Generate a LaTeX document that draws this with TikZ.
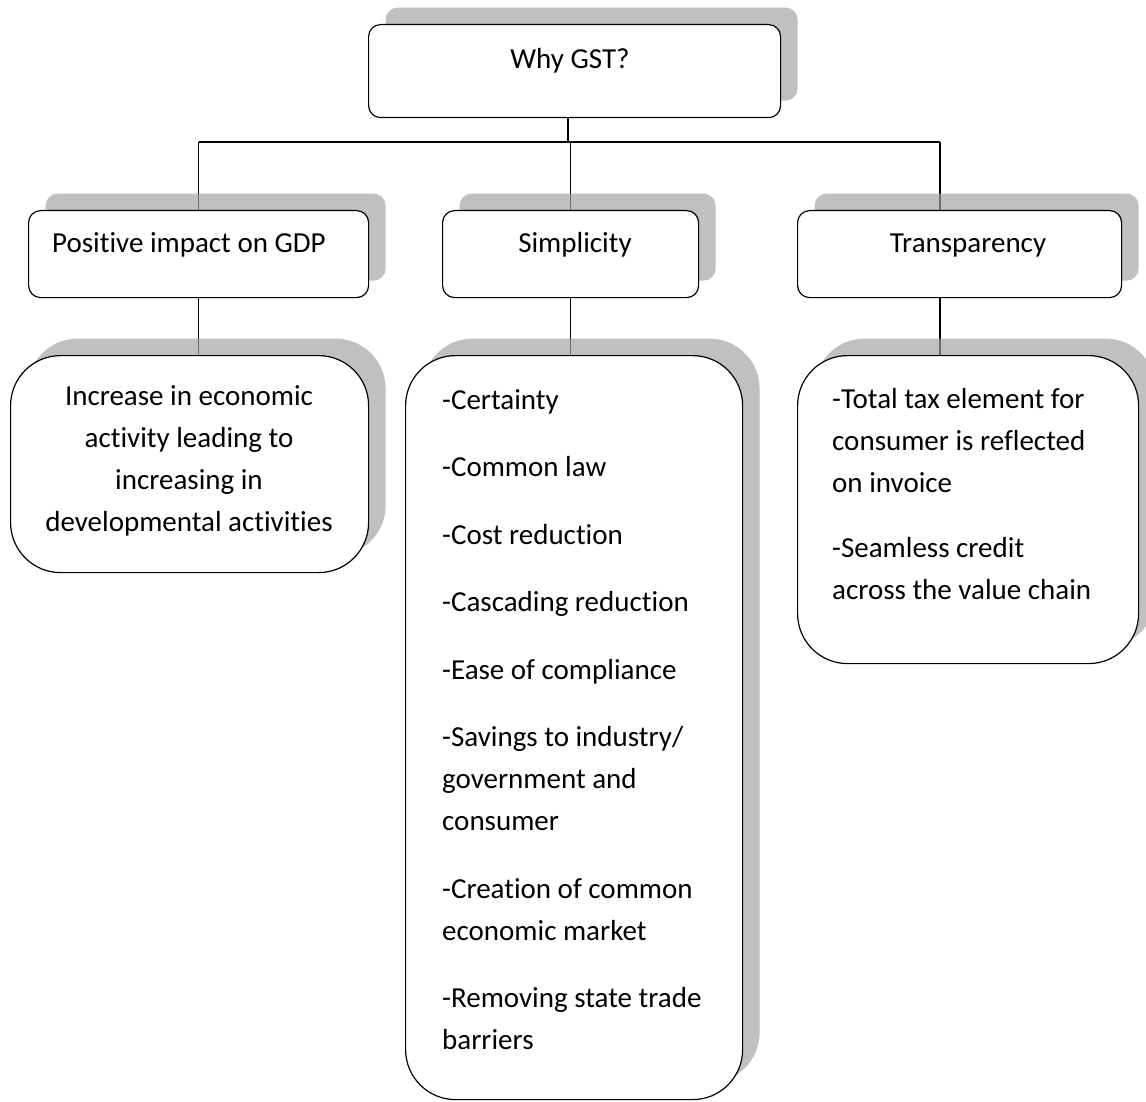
\documentclass[tikz,border=0pt]{standalone}
\usepackage{fontspec}
\setmainfont{Carlito}[Ligatures={NoCommon,NoRequired,NoContextual},RawFeature=-liga,RawFeature=-dlig,RawFeature=-calt]
\usetikzlibrary{shadows,backgrounds}
\begin{document}
\begin{tikzpicture}[x=1pt,y=-1pt,
  box/.style={draw=black, line width=1.2pt, fill=white, rounded corners=12pt, inner sep=0pt, anchor=north west,
    general shadow={fill=black!37, fill opacity=0.67, draw=none, shadow xshift=17pt, shadow yshift=17pt}},
  bigbox/.style={box, rounded corners=50pt},
  txt/.style={font=\fontsize{29}{42}\selectfont, inner sep=0pt},
  conn/.style={draw=black, line width=1.3pt}]
\useasboundingbox (0,0) rectangle (1146,1102);
% boxes
\node[box, minimum width=412pt, minimum height=93pt] (why) at (368,24) {};
\node[box, minimum width=340pt, minimum height=87pt] (pos) at (28,210) {};
\node[box, minimum width=256pt, minimum height=87pt] (simp) at (442,210) {};
\node[box, minimum width=324pt, minimum height=87pt] (trans) at (797,210) {};
\node[bigbox, minimum width=358pt, minimum height=217pt] (inc) at (10,355) {};
\node[bigbox, minimum width=337pt, minimum height=744pt] (simpl) at (405,355) {};
\node[bigbox, minimum width=341pt, minimum height=308pt] (transl) at (797,355) {};
% texts
\node[txt, anchor=base] (whyT) at (570,69) {Why GST?};
\node[txt, anchor=base west] (posT) at (52,252) {Positive impact on GDP};
\node[txt, anchor=base] (simpT) at (575,252) {Simplicity};
\node[txt, anchor=base] (transT) at (968,252) {Transparency};
\node[txt, anchor=north, align=center] (incT) at (189,385) {Increase in economic\\activity leading to\\increasing in\\developmental activities};
\node[txt, anchor=north west, align=left] (simplT) at (442,389) {-Certainty\\[25.5pt]-Common law\\[25.5pt]-Cost reduction\\[25.5pt]-Cascading reduction\\[25.5pt]-Ease of compliance\\[25.5pt]-Savings to industry/\\government and\\consumer\\[25.5pt]-Creation of common\\economic market\\[25.5pt]-Removing state trade\\barriers};
\node[txt, anchor=north west, align=left] (translT) at (832,388) {-Total tax element for\\consumer is reflected\\on invoice\\[23pt]-Seamless credit\\across the value chain};
% connectors
\coordinate (bus) at (568,142);
\coordinate (tj) at (940,142);
\begin{scope}[on background layer]
\draw[conn] (why.south -| bus) -- (bus);
\draw[conn] (pos.north |- bus) -- (tj);
\draw[conn] (pos.north |- bus) -- (pos.north);
\draw[conn] (simp.north |- bus) -- (simp.north);
\draw[conn] (tj) -- (tj |- trans.north);
\draw[conn] (pos.south) -- (pos.south |- inc.north);
\draw[conn] (simp.south) -- (simp.south |- simpl.north);
\draw[conn] (tj |- trans.south) -- (tj |- transl.north);
\end{scope}
\end{tikzpicture}
\end{document}
